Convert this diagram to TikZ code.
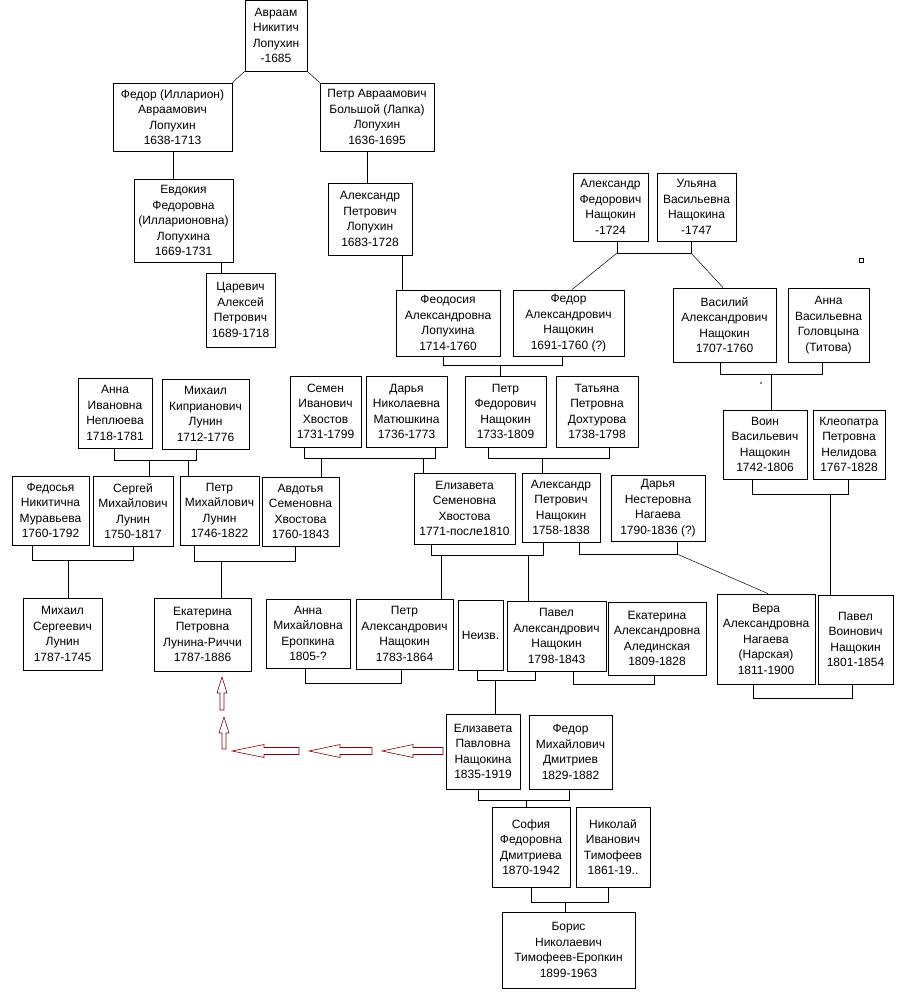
\documentclass[tikz,border=0pt]{standalone}
\usepackage{fontspec}
\setmainfont{Liberation Sans}
\begin{document}
\begin{tikzpicture}[x=1pt,y=-1pt,
  box/.style={draw,line width=0.8pt,inner sep=0pt,align=center,font=\fontsize{12}{15.5}\selectfont},
  ln/.style={line width=0.8pt},
  arr/.style={draw=red!55!black,line width=0.6pt,fill=white}]
\newcommand\pb[6]{\node[box,minimum width={#4-#2},minimum height={#5-#3}] (#1) at ({(#2+#4)/2},{(#3+#5)/2}) {#6};}
\useasboundingbox (0,0) rectangle (899,992);
\fill[white] (0,0) rectangle (899,992);
\pb{avr}{245}{0}{307}{71}{Авраам\\Никитич\\Лопухин\\-1685}
\pb{fed1}{113}{83}{232}{151}{Федор (Илларион)\\Авраамович\\Лопухин\\1638-1713}
\pb{pet1}{320}{83}{434}{151}{Петр Авраамович\\Большой (Лапка)\\Лопухин\\1636-1695}
\pb{evd}{134}{179}{233}{262}{Евдокия\\Федоровна\\(Илларионовна)\\Лопухина\\1669-1731}
\pb{car}{206}{273}{275}{347}{Царевич\\Алексей\\Петрович\\1689-1718}
\pb{apl}{328}{183}{412}{255}{Александр\\Петрович\\Лопухин\\1683-1728}
\pb{feod}{396}{290}{500}{356}{Феодосия\\Александровна\\Лопухина\\1714-1760}
\pb{afn}{573}{173}{648}{241}{Александр\\Федорович\\Нащокин\\-1724}
\pb{ulj}{657}{173}{736}{241}{Ульяна\\Васильевна\\Нащокина\\-1747}
\pb{fan}{513}{290}{624}{356}{Федор\\Александрович\\Нащокин\\1691-1760 (?)}
\pb{van}{673}{288}{776}{362}{Василий\\Александрович\\Нащокин\\1707-1760}
\pb{ang}{788}{288}{869}{362}{Анна\\Васильевна\\Головцына\\(Титова)}
\draw[line width=0.6pt] (859,258) rectangle (863,262);
\pb{anep}{78}{378}{152}{448}{Анна\\Ивановна\\Неплюева\\1718-1781}
\pb{mkl}{162}{379}{249}{449}{Михаил\\Киприанович\\Лунин\\1712-1776}
\pb{sem}{290}{376}{361}{447}{Семен\\Иванович\\Хвостов\\1731-1799}
\pb{dmat}{366}{376}{447}{447}{Дарья\\Николаевна\\Матюшкина\\1736-1773}
\pb{pfn}{465}{376}{546}{447}{Петр\\Федорович\\Нащокин\\1733-1809}
\pb{tat}{556}{376}{638}{447}{Татьяна\\Петровна\\Дохтурова\\1738-1798}
\pb{voin}{723}{410}{807}{479}{Воин\\Васильевич\\Нащокин\\1742-1806}
\pb{kle}{813}{410}{885}{479}{Клеопатра\\Петровна\\Нелидова\\1767-1828}
\pb{fmur}{12}{476}{89}{545}{Федосья\\Никитична\\Муравьева\\1760-1792}
\pb{sml}{93}{476}{173}{546}{Сергей\\Михайлович\\Лунин\\1750-1817}
\pb{pml}{180}{476}{259}{545}{Петр\\Михайлович\\Лунин\\1746-1822}
\pb{avd}{262}{477}{339}{546}{Авдотья\\Семеновна\\Хвостова\\1760-1843}
\pb{elsh}{414}{473}{515}{544}{Елизавета\\Семеновна\\Хвостова\\1771-после1810}
\pb{apn}{522}{473}{600}{542}{Александр\\Петрович\\Нащокин\\1758-1838}
\pb{dnag}{611}{475}{705}{541}{Дарья\\Нестеровна\\Нагаева\\1790-1836 (?)}
\pb{msl}{23}{598}{102}{670}{Михаил\\Сергеевич\\Лунин\\1787-1745}
\pb{ekl}{154}{598}{251}{671}{Екатерина\\Петровна\\Лунина-Риччи\\1787-1886}
\pb{aer}{266}{599}{350}{668}{Анна\\Михайловна\\Еропкина\\1805-?}
\pb{pan}{356}{599}{453}{669}{Петр\\Александрович\\Нащокин\\1783-1864}
\pb{nei}{458}{600}{503}{670}{Неизв.}
\pb{paw}{507}{601}{606}{671}{Павел\\Александрович\\Нащокин\\1798-1843}
\pb{eal}{608}{602}{706}{675}{Екатерина\\Александровна\\Алединская\\1809-1828}
\pb{ver}{717}{594}{815}{684}{Вера\\Александровна\\Нагаева\\(Нарская)\\1811-1900}
\pb{pvn}{818}{595}{893}{684}{Павел\\Воинович\\Нащокин\\1801-1854}
\pb{elp}{446}{714}{520}{789}{Елизавета\\Павловна\\Нащокина\\1835-1919}
\pb{fmd}{529}{715}{612}{789}{Федор\\Михайлович\\Дмитриев\\1829-1882}
\pb{sof}{492}{807}{570}{887}{София\\Федоровна\\Дмитриева\\1870-1942}
\pb{nit}{576}{807}{650}{887}{Николай\\Иванович\\Тимофеев\\1861-19..}
\pb{bor}{502}{912}{635}{988}{Борис\\Николаевич\\Тимофеев-Еропкин\\1899-1963}
% connectors
\draw[line width=0.5pt] (avr.south west) -- (fed1.north east);
\draw[line width=0.5pt] (avr.south east) -- (pet1.north west);
\draw[ln] (173,0 |- fed1.south) -- (173,0 |- evd.north);
\draw[ln] (221,0 |- evd.south) -- (221,0 |- car.north);
\draw[ln] (367,0 |- pet1.south) -- (367,0 |- apl.north);
\draw[ln] (402,0 |- apl.south) -- (402,0 |- feod.north);
\draw[ln] (617,0 |- afn.south) -- (617,253) -- (691,253) -- (691,0 |- ulj.south);
\draw[line width=0.5pt] (617,253) -- (572,0 |- fan.north);
\draw[line width=0.5pt] (691,253) -- (723,0 |- van.north);
\draw[ln] (443,0 |- feod.south) -- (443,365) -- (562,365) -- (562,0 |- fan.south);
\draw[ln] (500,365) -- (500,0 |- pfn.north);
\draw[ln] (720,0 |- van.south) -- (720,374) -- (822,374) -- (822,0 |- ang.south);
\draw[ln] (771,374) -- (771,0 |- voin.north);
\fill (761,383) circle (0.8);
\draw[ln] (114,0 |- anep.south) -- (114,460) -- (196,460) -- (196,0 |- mkl.south);
\draw[ln] (149,460) -- (149,0 |- sml.north);
\draw[ln] (188,460) -- (188,0 |- pml.north);
\draw[ln] (304,0 |- sem.south) -- (304,458) -- (435,458) -- (435,0 |- dmat.south);
\draw[ln] (321,458) -- (321,0 |- avd.north);
\draw[ln] (423,458) -- (423,0 |- elsh.north);
\draw[ln] (488,0 |- pfn.south) -- (488,458) -- (609,458) -- (609,0 |- tat.south);
\draw[ln] (542,458) -- (542,0 |- apn.north);
\draw[ln] (752,0 |- voin.south) -- (752,494) -- (848,494) -- (848,0 |- kle.south);
\draw[ln] (830,494) -- (830,0 |- pvn.north);
\draw[ln] (32,0 |- fmur.south) -- (32,560) -- (133,560) -- (133,0 |- sml.south);
\draw[ln] (68,560) -- (68,0 |- msl.north);
\draw[ln] (194,0 |- pml.south) -- (194,561) -- (295,561) -- (295,0 |- avd.south);
\draw[ln] (221,561) -- (221,0 |- ekl.north);
\draw[ln] (431,0 |- elsh.south) -- (431,555) -- (543,555) -- (543,0 |- apn.south);
\draw[ln] (441,555) -- (441,0 |- pan.north);
\draw[ln] (528,555) -- (528,0 |- paw.north);
\draw[ln] (579,0 |- apn.south) -- (579,554) -- (677,554) -- (677,0 |- dnag.south);
\draw[line width=0.5pt] (677,554) -- (768,0 |- ver.north);
\draw[ln] (305,0 |- aer.south) -- (305,683) -- (401,683) -- (401,0 |- pan.south);
\draw[ln] (477,0 |- nei.south) -- (477,680) -- (535,680) -- (535,0 |- paw.south);
\draw[ln] (495,680) -- (495,0 |- elp.north);
\draw[ln] (573,0 |- paw.south) -- (573,684) -- (654,684) -- (654,0 |- eal.south);
\draw[ln] (753,0 |- ver.south) -- (753,698) -- (852,698) -- (852,0 |- pvn.south);
\draw[ln] (478,0 |- elp.south) -- (478,800) -- (569,800) -- (569,0 |- fmd.south);
\draw[ln] (526,800) -- (526,0 |- sof.north);
\draw[ln] (531,0 |- sof.south) -- (531,902) -- (608,902) -- (608,0 |- nit.south);
\draw[ln] (565,902) -- (565,0 |- bor.north);
% hollow arrows
\draw[arr] (443,747.5) -- (413,747.5) -- (413,744.5) -- (382,751) -- (413,757.5) -- (413,754.5) -- (443,754.5) -- cycle;
\draw[arr] (372,747.5) -- (340,747.5) -- (340,744.5) -- (309,751) -- (340,757.5) -- (340,754.5) -- (372,754.5) -- cycle;
\draw[arr] (299,747.5) -- (264,747.5) -- (264,744.5) -- (232,751) -- (264,757.5) -- (264,754.5) -- (299,754.5) -- cycle;
\draw[arr] (220,710) -- (220,693) -- (217,693) -- (222,677) -- (227,693) -- (224,693) -- (224,710) -- cycle;
\draw[arr] (222,749) -- (222,733) -- (219,733) -- (224,717) -- (229,733) -- (226,733) -- (226,749) -- cycle;
\end{tikzpicture}
\end{document}
